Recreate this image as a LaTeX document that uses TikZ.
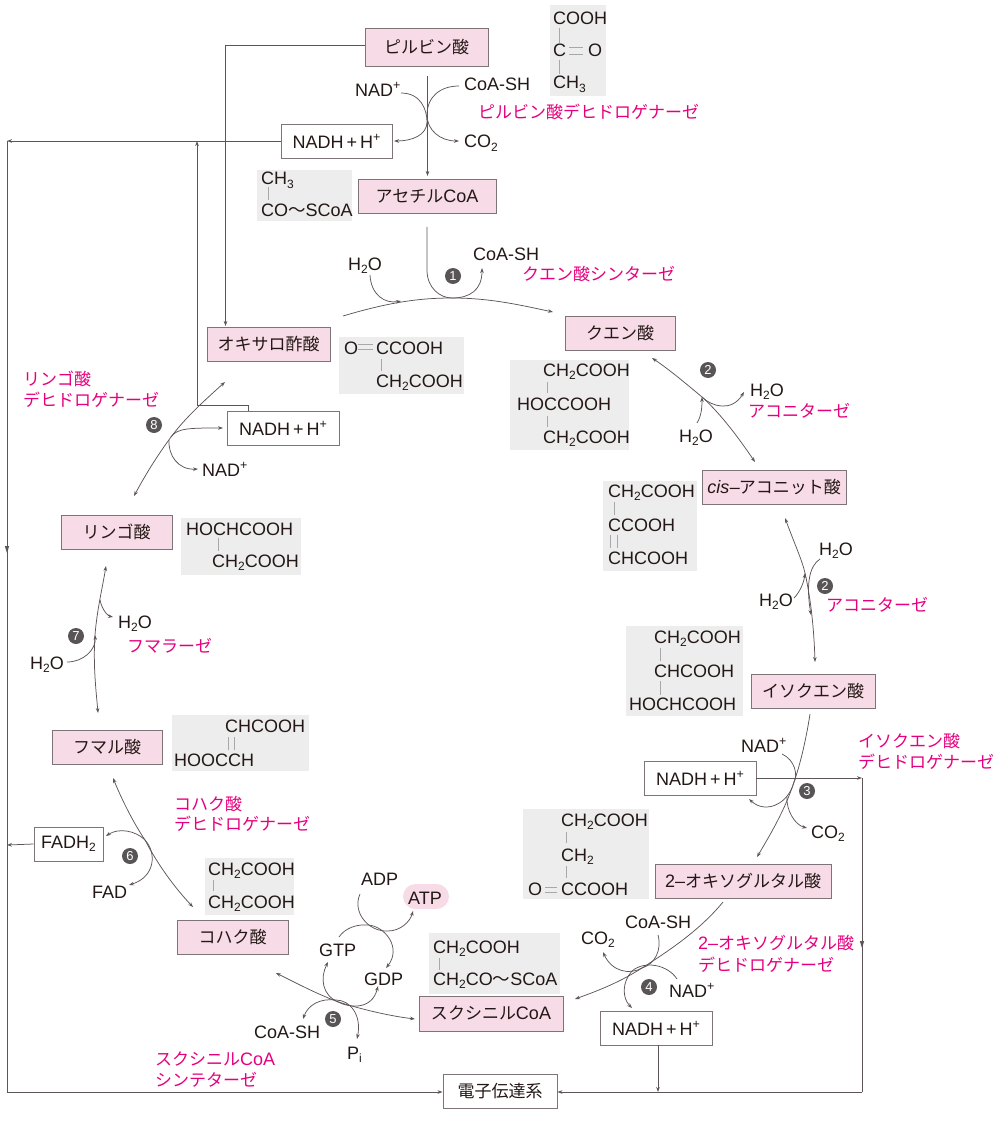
\documentclass[tikz,border=0pt]{standalone}
\usepackage{fontspec}
\setmainfont{Liberation Sans}
\newfontfamily\cjkf{Noto Sans CJK JP}
\usetikzlibrary{arrows.meta}
\definecolor{pinkfill}{HTML}{F7DBE7}
\definecolor{boxline}{HTML}{7E7478}
\definecolor{chemgray}{HTML}{EDEDED}
\definecolor{bondgray}{HTML}{A8A8A8}
\definecolor{linecol}{HTML}{5E5558}
\definecolor{enzcol}{HTML}{E6007E}
\definecolor{inkcol}{HTML}{231815}
\definecolor{badge}{HTML}{595556}
\newcommand\J[1]{{\cjkf\fontsize{17}{20}\selectfont #1}}
\newcommand\chemsub[1]{\raisebox{-3.5pt}{\fontsize{12}{12}\selectfont #1}}
\newcommand\chemsup[1]{\raisebox{7pt}{\fontsize{12.5}{12}\selectfont #1}}
\newcommand\NADH{NADH\hspace{3pt}+\hspace{3pt}H\chemsup{+}}
\newcommand\NADp{NAD\chemsup{+}}
\newcommand\waterf{H\chemsub{2}O}
\newcommand\cotwo{CO\chemsub{2}}
\newcommand\cht{CH\chemsub{2}}
\newcommand\wave{{\cjkf\fontsize{17.5}{20}\selectfont 〜}}
\newcommand\lab[4]{\node[lbl] (#1) at (#2,#3) {#4};}
\newcommand\enz[4]{\node[enzlbl] (#1) at (#2,#3) {#4};}
\newcommand\vb[3]{\draw[bond] (#1,#2) -- (#1,#3);}
\newcommand\hb[3]{\draw[bond] (#2,#1) -- (#3,#1);}
\tikzset{
  x=1pt,y=-1pt,
  every node/.style={text=inkcol,font=\fontsize{18}{20}\selectfont},
  pinkbox/.style={draw=boxline,fill=pinkfill,line width=0.9pt,inner sep=0pt,align=center},
  whitebox/.style={draw=boxline,fill=white,line width=0.9pt,inner sep=0pt,align=center},
  lbl/.style={anchor=base west,inner sep=0pt},
  enzlbl/.style={anchor=west,inner sep=0pt,text=enzcol},
  chem/.style={fill=chemgray,inner sep=0pt},
  bond/.style={draw=bondgray,line width=0.9pt},
  num/.style={circle,fill=badge,text=white,inner sep=0pt,minimum size=16pt,font=\fontsize{13}{13}\selectfont},
  conn/.style={draw=linecol,line width=0.75pt},
  arr/.style={conn,-{Stealth[length=5pt,width=3.6pt]}},
  darr/.style={conn,{Stealth[length=5pt,width=3.6pt]}-{Stealth[length=5pt,width=3.6pt]}},
  midarr/.style={fill=linecol,draw=none},
}
\begin{document}
\begin{tikzpicture}
\useasboundingbox (0,0) rectangle (1000,1123);
% grey formula panels
\node[chem,minimum width=56pt,minimum height=91pt] (gpyr) at (578,50.5) {};
\node[chem,minimum width=95pt,minimum height=51pt] (gace) at (304.5,195.5) {};
\node[chem,minimum width=125pt,minimum height=57pt] (goxa) at (401.5,365.5) {};
\node[chem,minimum width=119pt,minimum height=90pt] (gcit) at (569.5,405) {};
\node[chem,minimum width=94pt,minimum height=90pt] (gcis) at (650,526) {};
\node[chem,minimum width=117pt,minimum height=90pt] (giso) at (684.5,671) {};
\node[chem,minimum width=126pt,minimum height=90pt] (goxo) at (586,854) {};
\node[chem,minimum width=131pt,minimum height=61pt] (gsca) at (494.5,963.5) {};
\node[chem,minimum width=89pt,minimum height=57pt] (gsuc) at (249.5,886.5) {};
\node[chem,minimum width=137pt,minimum height=56pt] (gfum) at (240.5,743) {};
\node[chem,minimum width=120pt,minimum height=57pt] (gmal) at (241,546.5) {};
% formula bonds
\vb{559}{28}{43}\vb{559}{60}{74}\hb{47.5}{569}{583}\hb{54}{569}{583}
\vb{268}{187}{200}
\hb{344}{358}{373}\hb{349.5}{358}{373}\vb{381}{359}{371}
\vb{547}{382}{393}\vb{547}{416}{427}
\vb{614}{502}{515}\vb{610}{535}{548}\vb{617}{535}{548}
\vb{660}{648}{661}\vb{660}{681}{695}
\vb{566}{832}{843}\vb{566}{866}{878}\hb{887}{545}{557}\hb{892.5}{545}{557}
\vb{439}{958}{970}
\vb{213}{880}{891}
\vb{228}{737}{750}\vb{234}{737}{750}
\vb{218}{538}{551}
% formula texts
\lab{fa1}{553}{25}{COOH}\lab{fa2}{553}{57}{C}\lab{fa3}{588}{57}{O}\lab{fa4}{553}{89}{CH\chemsub{3}}
\lab{fb1}{261}{185}{CH\chemsub{3}}\lab{fb2}{261}{217}{CO\wave SCoA}
\lab{fc1}{344}{354}{O}\lab{fc2}{376}{354}{CCOOH}\lab{fc3}{376}{387}{\cht COOH}
\lab{fd1}{543}{376}{\cht COOH}\lab{fd2}{517}{410}{HOCCOOH}\lab{fd3}{543}{443}{\cht COOH}
\lab{fe1}{608}{497}{\cht COOH}\lab{fe2}{608}{531}{CCOOH}\lab{fe3}{608}{564}{CHCOOH}
\lab{ff1}{654}{643}{\cht COOH}\lab{ff2}{654}{677}{CHCOOH}\lab{ff3}{629}{710}{HOCHCOOH}
\lab{fg1}{561}{826}{\cht COOH}\lab{fg2}{561}{861}{\cht}\lab{fg3}{528}{895}{O}\lab{fg4}{561}{895}{CCOOH}
\lab{fh1}{433}{953}{\cht COOH}\lab{fh2}{433}{985}{\cht CO\wave SCoA}
\lab{fi1}{208}{875}{\cht COOH}\lab{fi2}{208}{908}{\cht COOH}
\lab{fj1}{225}{732}{CHCOOH}\lab{fj2}{174}{766}{HOOCCH}
\lab{fk1}{186}{535}{HOCHCOOH}\lab{fk2}{212}{567}{\cht COOH}
% metabolite boxes
\node[pinkbox,minimum width=123pt,minimum height=38pt] (pyr) at (426.5,47) {\J{ピルビン酸}};
\node[pinkbox,minimum width=138pt,minimum height=34pt] (ace) at (427,196) {\J{アセチル}CoA};
\node[pinkbox,minimum width=123pt,minimum height=34pt] (oxa) at (268.5,344) {\J{オキサロ酢酸}};
\node[pinkbox,minimum width=110pt,minimum height=34pt] (cit) at (620,333) {\J{クエン酸}};
\node[pinkbox,minimum width=144pt,minimum height=34pt] (cis) at (774,487) {\textit{cis}\hspace{0.5pt}–\hspace{-1pt}\J{アコニット酸}};
\node[pinkbox,minimum width=124pt,minimum height=34pt] (iso) at (813,691) {\J{イソクエン酸}};
\node[pinkbox,minimum width=176pt,minimum height=34pt] (oxo) at (743,881) {2–\J{オキソグルタル酸}};
\node[pinkbox,minimum width=144pt,minimum height=35pt] (sca) at (491,1013.5) {\J{スクシニル}CoA};
\node[pinkbox,minimum width=111pt,minimum height=34pt] (suc) at (232.5,937) {\J{コハク酸}};
\node[pinkbox,minimum width=110pt,minimum height=34pt] (fum) at (107,747) {\J{フマル酸}};
\node[pinkbox,minimum width=111pt,minimum height=34pt] (mal) at (116.5,532) {\J{リンゴ酸}};
\node[whitebox,minimum width=111pt,minimum height=34pt] (nadhA) at (336.5,141) {\NADH};
\node[whitebox,minimum width=112pt,minimum height=34pt] (nadhC) at (700,778) {\NADH};
\node[whitebox,minimum width=112pt,minimum height=34pt] (nadhD) at (656,1028) {\NADH};
\node[whitebox,minimum width=112pt,minimum height=34pt] (nadhH) at (283,428) {\NADH};
\node[whitebox,minimum width=69pt,minimum height=34pt] (fadh) at (68.5,844) {FADH\chemsub{2}};
\node[whitebox,minimum width=114pt,minimum height=34pt] (etc) at (500,1091) {\J{電子伝達系}};
\node[fill=pinkfill,rounded corners=12.5pt,minimum width=46pt,minimum height=25pt,inner sep=0pt] (atp) at (426,896.5) {};
% small labels
\lab{s1}{355}{97}{\NADp}\lab{s2}{464}{91}{CoA-SH}\lab{s3}{464}{148}{\cotwo}
\lab{s4}{348}{270}{\waterf}\lab{s5}{473}{260}{CoA-SH}
\lab{s6}{750}{396}{\waterf}\lab{s7}{679}{442}{\waterf}
\lab{s8}{819}{555}{\waterf}\lab{s9}{759}{606}{\waterf}
\lab{s10}{741}{752}{\NADp}\lab{s11}{811}{838}{\cotwo}
\lab{s12}{625}{928}{CoA-SH}\lab{s13}{581}{944}{\cotwo}\lab{s14}{669}{997}{\NADp}
\lab{s15}{361}{885}{ADP}\lab{s16}{408}{904}{ATP}\lab{s17}{319}{956}{GTP}\lab{s18}{364}{985}{GDP}
\lab{s19}{254}{1038}{CoA-SH}\lab{s20}{347}{1059}{P\chemsub{i}}
\lab{s21}{92}{898}{FAD}\lab{s22}{202}{476}{\NADp}
\lab{s23}{118}{628}{\waterf}\lab{s24}{30}{669}{\waterf}
% enzymes
\enz{e1}{478}{112}{\J{ピルビン酸デヒドロゲナーゼ}}
\enz{e2}{522}{274}{\J{クエン酸シンターゼ}}
\enz{e3}{748}{411}{\J{アコニターゼ}}
\enz{e4}{826}{605}{\J{アコニターゼ}}
\enz{e5}{858}{741}{\J{イソクエン酸}}
\enz{e6}{858}{762}{\J{デヒドロゲナーゼ}}
\enz{e7}{698}{943}{2–\J{オキソグルタル酸}}
\enz{e8}{698}{965}{\J{デヒドロゲナーゼ}}
\enz{e9}{174}{804}{\J{コハク酸}}
\enz{e10}{174}{824}{\J{デヒドロゲナーゼ}}
\enz{e11}{155}{1059}{\J{スクシニル}CoA}
\enz{e12}{155}{1080}{\J{シンテターゼ}}
\enz{e13}{23}{379}{\J{リンゴ酸}}
\enz{e14}{23}{400}{\J{デヒドロゲナーゼ}}
\enz{e15}{127}{646}{\J{フマラーゼ}}
% step badges
\node[num] (n1) at (453,276) {1};
\node[num] (n2a) at (708,370) {2};
\node[num] (n2b) at (825,586) {2};
\node[num] (n3) at (807,791) {3};
\node[num] (n4) at (649,987) {4};
\node[num] (n5) at (333,1019) {5};
\node[num] (n6) at (130,856) {6};
\node[num] (n7) at (76,636) {7};
\node[num] (n8) at (154,425) {8};
% routing points
\coordinate (lTop) at (7,141);
\coordinate (lBot) at (7,1092);
\coordinate (rTop) at (862,778);
\coordinate (rBot) at (862,1092);
\coordinate (vTop) at (197,141);
\coordinate (vElb) at (197,405);
\coordinate (hElb) at (248,405);
\coordinate (hEnd) at (248,411);
\coordinate (busD) at (658,1092);
\coordinate (pyrL) at (225.5,45);
\coordinate (pyrT) at (225.5,326);
\coordinate (lFad) at (7,845);
% electron transport routing
\draw[arr] (nadhA.west) -- (lTop);
\draw[conn] (lTop) -- (lBot);
\draw[arr] (lBot) -- (etc.west |- lBot);
\draw[arr] (fadh.west) -- (lFad);
\draw[arr] (nadhC.east) -- (rTop);
\draw[conn] (rTop) -- (rBot);
\draw[arr] (rBot) -- (etc.east |- rBot);
\draw[arr] (nadhD.south -| busD) -- (busD);
\draw[arr] (hEnd) -- (hElb) -- (vElb) -- (vTop);
\draw[arr] (pyr.west |- pyrL) -- (pyrL) -- (pyrT);
\fill[linecol] (7,553) -- (4.8,546) -- (9.2,546) -- cycle;
\fill[linecol] (862,948) -- (859.8,941) -- (864.2,941) -- cycle;
% pyruvate to acetyl-CoA
\coordinate (a0) at (427.5,76);
\coordinate (a1) at (427.5,176);
\coordinate (a2) at (401,93);
\coordinate (a3) at (427,122);
\coordinate (a4) at (394,141);
\coordinate (a5) at (459,86);
\coordinate (a6) at (427,115);
\coordinate (a7) at (459,141);
\draw[arr] (a0) -- (a1);
\draw[arr] (a2) .. controls (421,93) and (427,110) .. (a3) .. controls (427,135) and (412,141) .. (a4);
\draw[arr] (a5) .. controls (440,86) and (427,97) .. (a6) .. controls (427,130) and (440,141) .. (a7);
% step 1
\coordinate (b0) at (343,316);
\coordinate (b1) at (452,298);
\coordinate (b2) at (553,312);
\coordinate (b3) at (370,275);
\coordinate (b4) at (401,301);
\coordinate (b5) at (427,227);
\coordinate (b6) at (427,270);
\coordinate (b7) at (482,268);
\draw[arr] (b0) .. controls (390,302) and (420,298) .. (b1) .. controls (490,298) and (520,305) .. (b2);
\draw[arr] (b3) .. controls (371,295) and (385,304) .. (b4);
\draw[arr] (b5) -- (b6) .. controls (427,288) and (440,298) .. (b1) .. controls (470,298) and (482,290) .. (b7);
% step 2 upper
\coordinate (c0) at (652,358);
\coordinate (c1) at (702,397);
\coordinate (c2) at (755,462);
\coordinate (c3) at (697,423);
\coordinate (c4) at (744,392);
\draw[darr] (c0) .. controls (670,370) and (690,387) .. (c1) .. controls (722,415) and (740,440) .. (c2);
\draw[arr] (c3) .. controls (702,415) and (702,405) .. (c1);
\draw[arr] (c1) .. controls (712,407) and (732,412) .. (c4);
% step 2 lower
\coordinate (d0) at (785,518);
\coordinate (d1) at (805,573);
\coordinate (d2) at (815,662);
\coordinate (d3) at (794,598);
\coordinate (d4) at (820,559);
\coordinate (d5) at (811,615);
\draw[darr] (d0) .. controls (795,545) and (802,560) .. (d1) .. controls (811,600) and (814,630) .. (d2);
\draw[arr] (d3) .. controls (800,592) and (804,582) .. (d1);
\draw[arr] (d4) .. controls (809,566) and (806,585) .. (d5);
% step 3
\coordinate (e0) at (810,714);
\coordinate (e1) at (794,782);
\coordinate (e2) at (757,857);
\coordinate (e3) at (782,754);
\coordinate (e4) at (749,799);
\coordinate (e5) at (787,797);
\coordinate (e6) at (807,828);
\draw[arr] (e0) .. controls (806,740) and (800,765) .. (e1) .. controls (785,810) and (770,835) .. (e2);
\draw[arr] (e3) .. controls (795,760) and (798,775) .. (e1) .. controls (788,805) and (765,814) .. (e4);
\draw[arr] (e5) .. controls (786,810) and (795,825) .. (e6);
% step 4
\coordinate (f0) at (723,902);
\coordinate (f1) at (642,968);
\coordinate (f2) at (575,999);
\coordinate (f3) at (658,935);
\coordinate (f4) at (603,952);
\coordinate (f5) at (677,979);
\coordinate (f6) at (632,971);
\coordinate (f7) at (632,1008);
\draw[arr] (f0) .. controls (700,930) and (670,950) .. (f1) .. controls (620,982) and (600,990) .. (f2);
\draw[arr] (f3) .. controls (662,950) and (655,964) .. (f1) .. controls (630,975) and (612,972) .. (f4);
\draw[arr] (f5) .. controls (668,965) and (645,960) .. (f6) .. controls (622,982) and (622,998) .. (f7);
% step 5
\coordinate (g0) at (276,973);
\coordinate (g1) at (345,1004);
\coordinate (g2) at (415,1019);
\coordinate (g3) at (303,1019);
\coordinate (g4) at (336,1000);
\coordinate (g5) at (357,1039);
\coordinate (g6) at (328,962);
\coordinate (g7) at (338,1002);
\coordinate (g8) at (378,986);
\coordinate (g9) at (339,937);
\coordinate (g10) at (368,925);
\coordinate (g11) at (386,968);
\coordinate (g12) at (360,894);
\coordinate (g13) at (388,931);
\coordinate (g14) at (413,911);
\draw[darr] (g0) .. controls (300,985) and (325,998) .. (g1) .. controls (365,1010) and (390,1016) .. (g2);
\draw[darr] (g3) .. controls (308,1005) and (320,998) .. (g4) .. controls (350,1000) and (362,1015) .. (g5);
\draw[darr] (g6) .. controls (320,978) and (322,995) .. (g7) .. controls (350,1008) and (372,1010) .. (g8);
\draw[arr] (g9) .. controls (345,928) and (357,924) .. (g10) .. controls (385,926) and (402,948) .. (g11);
\draw[arr] (g12) .. controls (352,912) and (368,932) .. (g13) .. controls (400,931) and (410,922) .. (g14);
% step 6
\coordinate (h0) at (113,778);
\coordinate (h1) at (145,840);
\coordinate (h2) at (193,907);
\coordinate (h3) at (106,836);
\coordinate (h4) at (129,885);
\draw[darr] (h0) .. controls (122,800) and (133,822) .. (h1) .. controls (158,865) and (175,888) .. (h2);
\draw[darr] (h3) .. controls (118,828) and (135,830) .. (h1) .. controls (157,853) and (155,877) .. (h4);
% step 7
\coordinate (i0) at (106,566);
\coordinate (i1) at (95,635);
\coordinate (i2) at (98,713);
\coordinate (i3) at (100,600);
\coordinate (i4) at (113,617);
\coordinate (i5) at (67,662);
\draw[darr] (i0) .. controls (102,590) and (97,610) .. (i1) .. controls (93,665) and (96,690) .. (i2);
\draw[arr] (i3) .. controls (102,610) and (108,616) .. (i4);
\draw[arr] (i5) .. controls (83,662) and (96,650) .. (i1);
% step 8
\coordinate (k0) at (134,496);
\coordinate (k1) at (171,437);
\coordinate (k2) at (225,382);
\coordinate (k3) at (223,428);
\coordinate (k4) at (169,440);
\coordinate (k5) at (198,469);
\draw[darr] (k0) .. controls (148,470) and (160,452) .. (k1) .. controls (185,418) and (205,400) .. (k2);
\draw[arr] (k1) .. controls (177,428) and (190,428) .. (k3);
\draw[arr] (k4) .. controls (168,455) and (178,470) .. (k5);
\end{tikzpicture}
\end{document}
